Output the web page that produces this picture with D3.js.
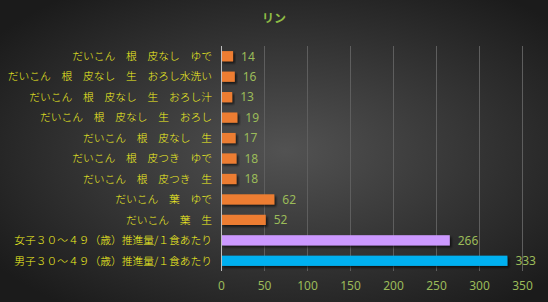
<!DOCTYPE html>
<html><head><meta charset="utf-8">
<script src="https://cdn.jsdelivr.net/npm/d3@7"></script>
<style>html,body{margin:0;padding:0;background:#333;}svg{display:block;}</style>
</head><body>
<svg id="c" width="548" height="302"></svg>
<script>
const categories = [
  "だいこん　根　皮なし　ゆで",
  "だいこん　根　皮なし　生　おろし水洗い",
  "だいこん　根　皮なし　生　おろし汁",
  "だいこん　根　皮なし　生　おろし",
  "だいこん　根　皮なし　生",
  "だいこん　根　皮つき　ゆで",
  "だいこん　根　皮つき　生",
  "だいこん　葉　ゆで",
  "だいこん　葉　生",
  "女子３０～４９（歳）推進量/１食あたり",
  "男子３０～４９（歳）推進量/１食あたり"
];
const values = [14, 16, 13, 19, 17, 18, 18, 62, 52, 266, 333];
const barColors = ["#ed7d31","#ed7d31","#ed7d31","#ed7d31","#ed7d31","#ed7d31","#ed7d31","#ed7d31","#ed7d31","#cc99ff","#00b0f0"];
const xTicks = [0, 50, 100, 150, 200, 250, 300, 350];
const title = "リン";

const svg = d3.select("#c");
const W = 548, H = 302;
const defs = svg.append("defs");
const rg = defs.append("radialGradient").attr("id","bg").attr("cx","52%").attr("cy","50%").attr("r","65%")
  .attr("gradientUnits","objectBoundingBox");
rg.append("stop").attr("offset","0%").attr("stop-color","#525252");
rg.append("stop").attr("offset","100%").attr("stop-color","#1b1b1b");
const sh = defs.append("filter").attr("id","sh").attr("x","-10%").attr("y","-50%").attr("width","130%").attr("height","250%");
sh.append("feDropShadow").attr("dx",2).attr("dy",2).attr("stdDeviation",1.2).attr("flood-color","#000").attr("flood-opacity",0.6);

svg.append("rect").attr("width",W).attr("height",H).attr("fill","url(#bg)");

const font = "'Noto Sans CJK JP', 'Noto Sans', sans-serif";
const numFont = "'Noto Sans', 'Open Sans', sans-serif";
const x = d3.scaleLinear().domain([0, 350]).range([221, 522]);
const y = d3.scaleBand().domain(categories).range([46, 271]).paddingInner(0.5).paddingOuter(0.25);

svg.append("text").attr("x", 274).attr("y", 23).attr("text-anchor","middle")
  .attr("font-family", font).attr("font-size", 12).attr("font-weight","bold").attr("fill","#8fbc45").text(title);

// gridlines
svg.append("g").selectAll("line").data(xTicks.slice(1)).join("line")
  .attr("x1", d => x(d) + 0.5).attr("x2", d => x(d) + 0.5)
  .attr("y1", 46).attr("y2", 271).attr("stroke", "#5e5e5e").attr("stroke-width", 1);

// bars
svg.append("g").selectAll("rect").data(values).join("rect")
  .attr("x", x(0)).attr("y", (d,i) => y(categories[i]))
  .attr("width", d => x(d) - x(0)).attr("height", y.bandwidth())
  .attr("fill", (d,i) => barColors[i]).attr("filter","url(#sh)");

// y axis line
svg.append("line").attr("x1", x(0)+0.5).attr("x2", x(0)+0.5).attr("y1", 46).attr("y2", 271)
  .attr("stroke", "#bfbfbf").attr("stroke-width", 1);

// category labels
svg.append("g").selectAll("text").data(categories).join("text")
  .attr("x", 212).attr("y", d => y(d) + y.bandwidth()/2).attr("dy","0.35em")
  .attr("text-anchor","end").attr("font-family", font).attr("font-size", 10.75).attr("font-weight", 300)
  .attr("fill","#f5f520").text(d => d);

// value labels
svg.append("g").selectAll("text").data(values).join("text")
  .attr("x", d => x(d) + 8).attr("y", (d,i) => y(categories[i]) + y.bandwidth()/2).attr("dy","0.36em")
  .attr("font-family", numFont).attr("font-size", 12).attr("fill","#9bbb59").text(d => d);

// x axis labels
const xa = svg.append("g").attr("transform","translate(0,286)").call(d3.axisBottom(x).tickValues(xTicks).tickSize(0).tickPadding(0));
xa.select(".domain").remove();
xa.selectAll("text").attr("font-family", numFont).attr("font-size", 12).attr("fill","#9bbb59").attr("dy","0.36em");
</script>
</body></html>
